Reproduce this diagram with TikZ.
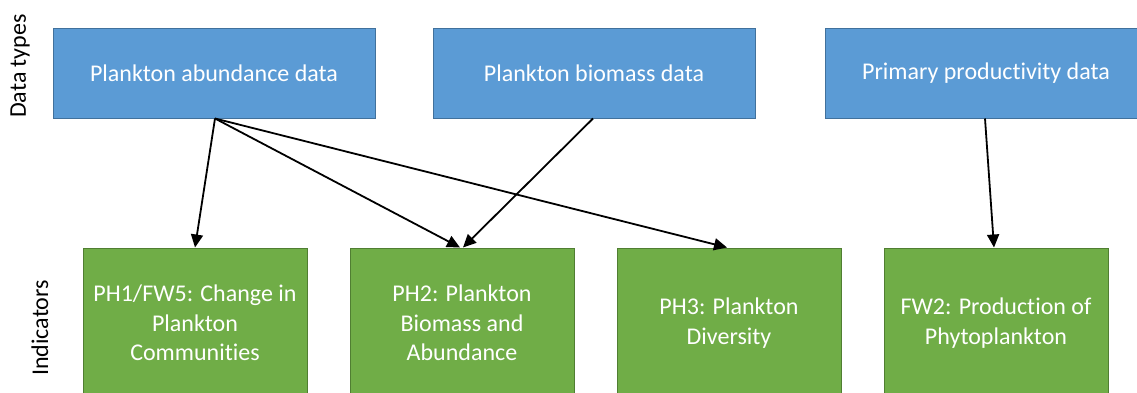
\documentclass[tikz,border=0pt]{standalone}
\usepackage{fontspec}
\setmainfont{Carlito}[Ligatures={NoCommon}]
\usetikzlibrary{arrows.meta}
\definecolor{boxblue}{HTML}{5B9BD5}
\definecolor{blueedge}{HTML}{41719C}
\definecolor{boxgreen}{HTML}{70AD47}
\definecolor{greenedge}{HTML}{507E32}
\begin{document}
\begin{tikzpicture}[x=1pt,y=-1pt,
  datatype/.style={draw=blueedge, fill=boxblue, line width=1pt, text=white,
    font=\fontsize{24}{29}\selectfont, inner sep=0pt,
    minimum width=322pt, minimum height=90pt},
  indicator/.style={draw=greenedge, fill=boxgreen, line width=1pt, text=white,
    font=\fontsize{24}{29.5}\selectfont, inner sep=0pt, align=center,
    minimum width=224pt, minimum height=150pt},
  link/.style={-{Triangle[length=13pt,width=12pt]}, line width=1.8pt, black},
  axislabel/.style={rotate=90, font=\fontsize{24}{28}\selectfont, inner sep=0pt}
]
\useasboundingbox (0,0) rectangle (1137,392);
% data types
\node[datatype] (ab) at (214,73) {Plankton abundance data};
\node[datatype] (bm) at (594,73) {Plankton biomass data};
\node[datatype] (pp) at (986,73) {Primary productivity data};
% indicators
\node[indicator] (ph1) at (195,323) {PH1/FW5: Change in\\Plankton\\Communities};
\node[indicator] (ph2) at (462,323) {PH2: Plankton\\Biomass and\\Abundance};
\node[indicator] (ph3) at (729,323) {PH3: Plankton\\Diversity};
\node[indicator] (fw2) at (996,323) {FW2: Production of\\Phytoplankton};
% side labels
\node[axislabel] (lt) at (20,66) {Data types};
\node[axislabel] (li) at (40,328) {Indicators};
% connectors
\draw[link] ([xshift=1pt]ab.south) -- (ph1.north);
\draw[link] ([xshift=1pt]ab.south) -- ([xshift=-2pt]ph2.north);
\draw[link] ([xshift=1pt]ab.south) -- ([xshift=-2pt]ph3.north);
\draw[link] ([xshift=-1pt]bm.south) -- ([xshift=1pt]ph2.north);
\draw[link] ([xshift=-1pt]pp.south) -- ([xshift=-2pt]fw2.north);
\end{tikzpicture}
\end{document}
